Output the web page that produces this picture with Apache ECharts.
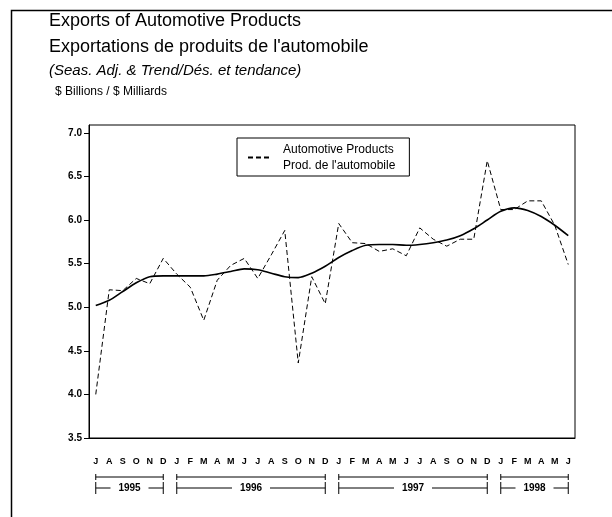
<!DOCTYPE html>
<html>
<head>
<meta charset="utf-8">
<script src="https://cdn.jsdelivr.net/npm/echarts@6/dist/echarts.min.js"></script>
<style>
html,body{margin:0;padding:0;background:#fff}
#main{width:612px;height:517px}
</style>
</head>
<body>
<div id="main"></div>
<script>
// 月份 1995-07 .. 1998-06
var months = [
  '1995-07','1995-08','1995-09','1995-10','1995-11','1995-12',
  '1996-01','1996-02','1996-03','1996-04','1996-05','1996-06',
  '1996-07','1996-08','1996-09','1996-10','1996-11','1996-12',
  '1997-01','1997-02','1997-03','1997-04','1997-05','1997-06',
  '1997-07','1997-08','1997-09','1997-10','1997-11','1997-12',
  '1998-01','1998-02','1998-03','1998-04','1998-05','1998-06'
];
var monthLetters = ['J','A','S','O','N','D','J','F','M','A','M','J',
  'J','A','S','O','N','D','J','F','M','A','M','J',
  'J','A','S','O','N','D','J','F','M','A','M','J'];
var years = ['1995','1996','1997','1998'];

// 季调数据 (虚线)
var seasAdj = [4.00, 5.20, 5.19, 5.33, 5.27, 5.56, 5.38, 5.23, 4.85, 5.31, 5.48, 5.56,
               5.33, 5.60, 5.88, 4.36, 5.35, 5.04, 5.96, 5.74, 5.73, 5.64, 5.67, 5.59,
               5.91, 5.78, 5.70, 5.78, 5.78, 6.68, 6.12, 6.12, 6.22, 6.22, 5.94, 5.49];
// 趋势 (实线)
var trend = [5.02, 5.08, 5.18, 5.28, 5.35, 5.36, 5.36, 5.36, 5.36, 5.38, 5.41, 5.44,
             5.43, 5.39, 5.35, 5.34, 5.39, 5.47, 5.57, 5.65, 5.71, 5.72, 5.72, 5.71,
             5.72, 5.74, 5.77, 5.82, 5.90, 6.00, 6.10, 6.14, 6.11, 6.04, 5.94, 5.82];
var yTicks = [3.5, 4.0, 4.5, 5.0, 5.5, 6.0, 6.5, 7.0];

var font = 'Liberation Sans, Arial, sans-serif';

var option = {
  animation: false,
  backgroundColor: '#fff',
  title: [
    {text: 'Exports of Automotive Products', left: 49, top: 12, padding: 0,
     textStyle: {fontSize: 18, fontWeight: 'normal', color: '#000', fontFamily: font}},
    {text: "Exportations de produits de l'automobile", left: 49, top: 38, padding: 0,
     textStyle: {fontSize: 18, fontWeight: 'normal', color: '#000', fontFamily: font}},
    {text: '(Seas. Adj. & Trend/Dés. et tendance)', left: 49, top: 63, padding: 0,
     textStyle: {fontSize: 15, fontWeight: 'normal', fontStyle: 'italic', color: '#000', fontFamily: font}},
    {text: '$ Billions / $ Milliards', left: 55, top: 86, padding: 0,
     textStyle: {fontSize: 12, fontWeight: 'normal', color: '#000', fontFamily: font}}
  ],
  legend: {
    data: ['Automotive Products'],
    selectedMode: false,
    left: 237, top: 138,
    padding: [4, 14, 3, 10],
    itemWidth: 23, itemHeight: 10,
    borderColor: '#000', borderWidth: 1, backgroundColor: '#fff',
    itemStyle: {color: 'rgba(0,0,0,0)', borderWidth: 0, opacity: 0},
    formatter: function () { return "Automotive Products\nProd. de l'automobile"; },
    textStyle: {fontSize: 12, lineHeight: 15.5, color: '#000', fontFamily: font, padding: [0, 0, 0, 7]}
  },
  grid: {left: 89, right: 37, top: 125, bottom: 79, show: true, borderColor: '#000', borderWidth: 1},
  xAxis: {
    type: 'category', data: months, boundaryGap: true,
    axisLine: {lineStyle: {color: '#000', width: 1}},
    axisTick: {show: false},
    axisLabel: {interval: 0, margin: 19, fontSize: 9, fontWeight: 'bold', color: '#000', fontFamily: font,
      formatter: function (v, i) { return monthLetters[i]; }}
  },
  yAxis: {
    type: 'value', min: 3.5, max: 7.09,
    axisLine: {show: true, lineStyle: {color: '#000', width: 1}},
    axisTick: {show: true, length: 5, customValues: yTicks, lineStyle: {color: '#000'}},
    axisLabel: {customValues: yTicks, margin: 7, fontSize: 10, fontWeight: 'bold', color: '#000', fontFamily: font,
      formatter: function (v) { return v.toFixed(1); }},
    splitLine: {show: false}
  },
  series: [
    {name: 'Trend', type: 'line', data: trend, symbol: 'none', smooth: 0.3,
     lineStyle: {color: '#000', width: 1.6}},
    {name: 'Automotive Products', type: 'line', data: seasAdj, symbol: 'none',
     lineStyle: {color: '#000', width: 1, type: [5, 3]}, itemStyle: {color: '#000'}}
  ]
};

var myChart = echarts.init(document.getElementById('main'));
myChart.setOption(option);

// 年份括号
var graphics = [
  {type: 'polyline', shape: {points: [[11.5, 517], [11.5, 10.5], [612, 10.5]]},
   style: {stroke: '#000', lineWidth: 1.5, fill: null}}
];
var yTop = 477, yMid = 488;
years.forEach(function (yr) {
  var idx = [];
  months.forEach(function (m, i) { if (m.indexOf(yr) === 0) idx.push(i); });
  var x1 = myChart.convertToPixel({xAxisIndex: 0}, months[idx[0]]);
  var x2 = myChart.convertToPixel({xAxisIndex: 0}, months[idx[idx.length - 1]]);
  var cx = (x1 + x2) / 2;
  var half = 19;
  var s = {stroke: '#000', lineWidth: 1, fill: null};
  graphics.push(
    {type: 'line', shape: {x1: x1, y1: yTop, x2: x2, y2: yTop}, style: s},
    {type: 'line', shape: {x1: x1, y1: yTop - 3, x2: x1, y2: yTop + 3}, style: s},
    {type: 'line', shape: {x1: x2, y1: yTop - 3, x2: x2, y2: yTop + 3}, style: s},
    {type: 'line', shape: {x1: x1, y1: yMid - 6, x2: x1, y2: yMid + 6}, style: s},
    {type: 'line', shape: {x1: x2, y1: yMid - 6, x2: x2, y2: yMid + 6}, style: s},
    {type: 'line', shape: {x1: x1, y1: yMid, x2: cx - half, y2: yMid}, style: s},
    {type: 'line', shape: {x1: cx + half, y1: yMid, x2: x2, y2: yMid}, style: s},
    {type: 'text', x: cx, y: yMid, style: {text: yr, fill: '#000', font: 'bold 10px ' + font,
      textAlign: 'center', textVerticalAlign: 'middle'}}
  );
});
myChart.setOption({graphic: graphics});
</script>
</body>
</html>
